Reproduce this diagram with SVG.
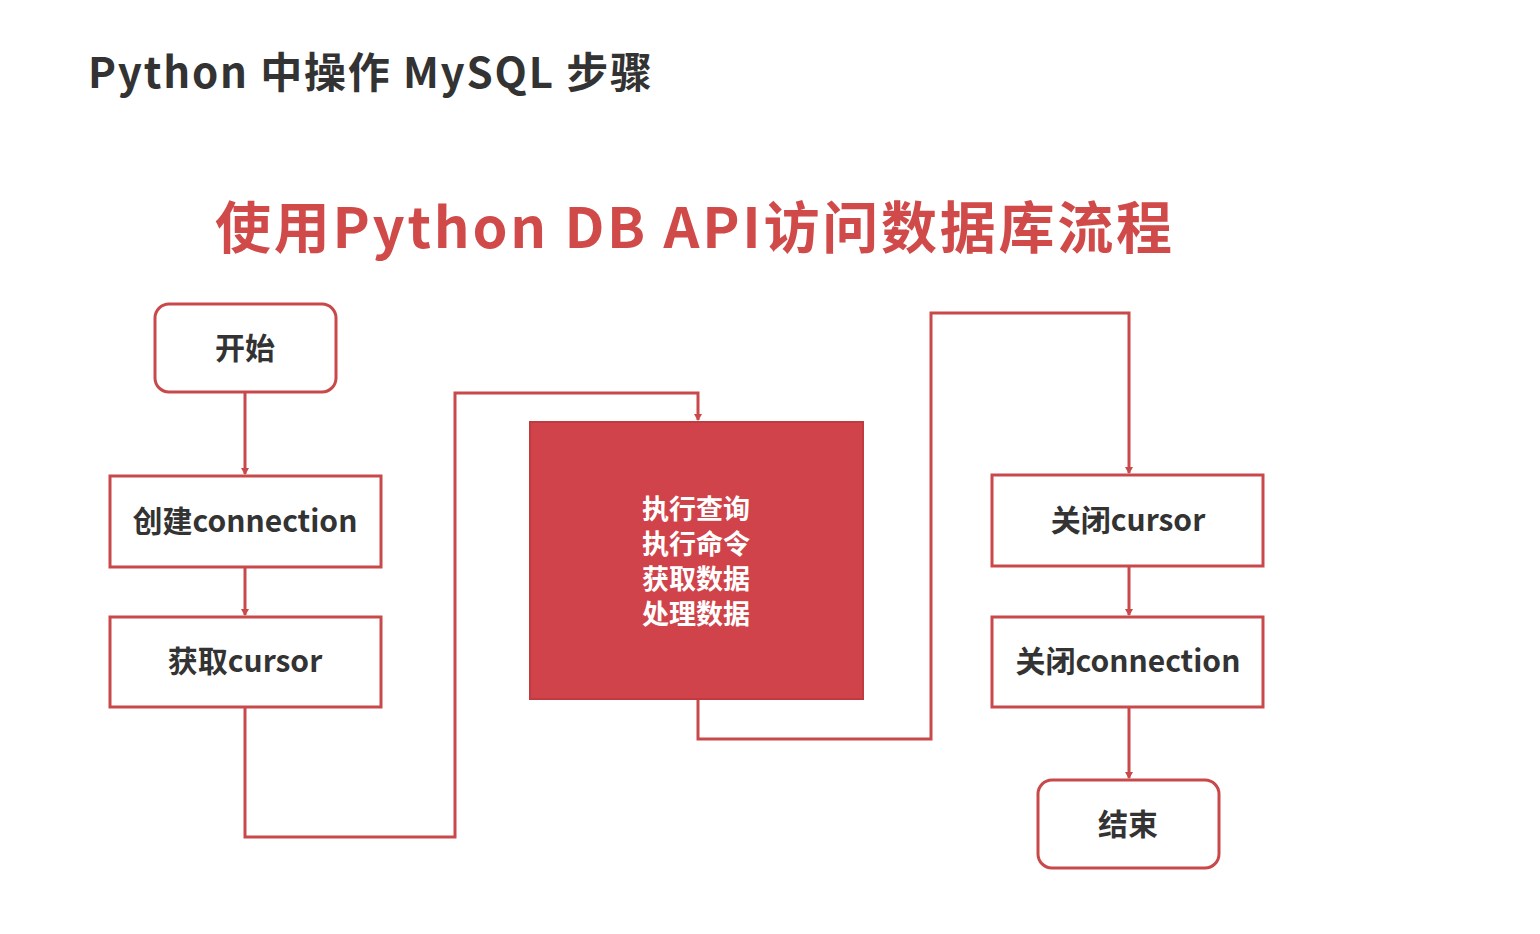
<svg xmlns="http://www.w3.org/2000/svg" width="1540" height="934" viewBox="0 0 1540 934">
<style>
.t{font-family:"Noto Sans CJK SC","Open Sans",sans-serif;font-weight:bold}
.box{fill:#fff;stroke:#c9484a;stroke-width:3}
.lbl{font-family:"Noto Sans CJK SC","Open Sans",sans-serif;font-weight:bold;font-size:30px;fill:#333;text-anchor:middle}
.con{fill:none;stroke:#c9484a;stroke-width:3}
</style>
<defs><marker id="a" markerWidth="8" markerHeight="8" refX="6" refY="4" orient="auto" markerUnits="userSpaceOnUse"><path d="M0,0 L7,4 L0,8 Z" fill="#c9484a"/></marker></defs>
<rect width="1540" height="934" fill="#fff"/>
<text class="t" x="88" y="88" font-size="42" fill="#333" textLength="564">Python 中操作 MySQL 步骤</text>
<text class="t" x="215" y="248" font-size="56" fill="#d14a4a" textLength="957">使用Python DB API访问数据库流程</text>
<g id="connectors">
<path class="con" d="M245,392 V474" marker-end="url(#a)"/>
<path class="con" d="M245,567 V615" marker-end="url(#a)"/>
<path class="con" d="M245,707 V837 H455 V393 H698 V420" marker-end="url(#a)"/>
<path class="con" d="M698,699 V739 H931 V313 H1129 V473" marker-end="url(#a)"/>
<path class="con" d="M1129,566 V615" marker-end="url(#a)"/>
<path class="con" d="M1129,707 V778" marker-end="url(#a)"/>
</g>
<g id="start"><rect class="box" x="155" y="304" width="181" height="88" rx="14"/><text class="lbl" x="245" y="359">开始</text></g>
<g id="conn"><rect class="box" x="110" y="476" width="271" height="91"/><text class="lbl" x="245" y="532">创建connection</text></g>
<g id="cursor"><rect class="box" x="110" y="617" width="271" height="90"/><text class="lbl" x="245" y="672">获取cursor</text></g>
<g id="exec"><rect x="530" y="422" width="333" height="277" fill="#d1434a" stroke="#c03a40" stroke-width="2"/>
<text class="lbl" style="fill:#fff;font-size:27px" x="696" y="519">执行查询</text>
<text class="lbl" style="fill:#fff;font-size:27px" x="696" y="554">执行命令</text>
<text class="lbl" style="fill:#fff;font-size:27px" x="696" y="589">获取数据</text>
<text class="lbl" style="fill:#fff;font-size:27px" x="696" y="624">处理数据</text></g>
<g id="closecursor"><rect class="box" x="992" y="475" width="271" height="91"/><text class="lbl" x="1128" y="531">关闭cursor</text></g>
<g id="closeconn"><rect class="box" x="992" y="617" width="271" height="90"/><text class="lbl" x="1128" y="672">关闭connection</text></g>
<g id="end"><rect class="box" x="1038" y="780" width="181" height="88" rx="14"/><text class="lbl" x="1128" y="835">结束</text></g>
</svg>
